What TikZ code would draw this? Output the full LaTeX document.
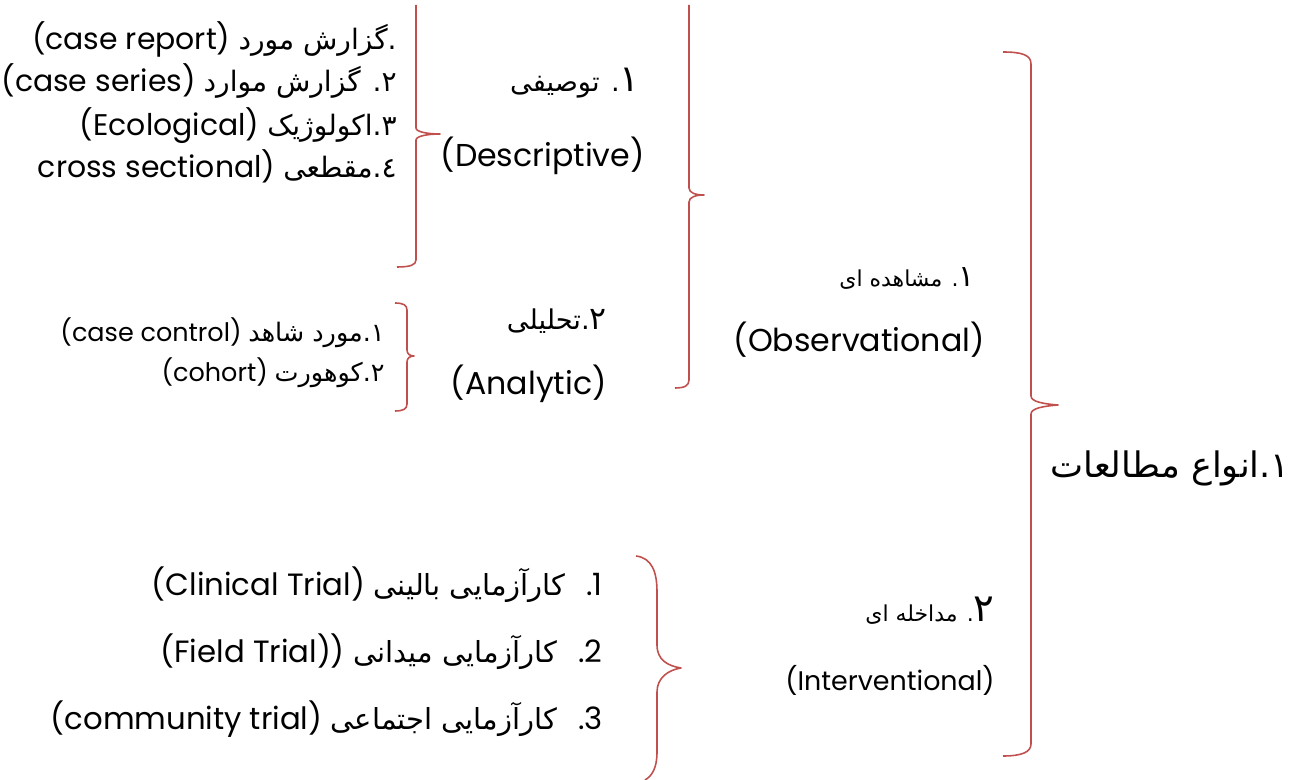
\documentclass[tikz,border=0pt]{standalone}
\usepackage{fontspec}
\setmainfont{Poppins}
\newfontfamily\lat{Poppins}
\newfontfamily\fa[Script=Arabic]{DejaVu Sans}
\TeXXeTstate=1
\definecolor{bracered}{RGB}{192,80,77}
\newcommand{\fsz}[1]{\fontsize{#1}{#1}\selectfont}
\tikzset{
  brc/.style={bracered,line width=0.9pt,line join=round},
  lbl/.style={anchor=base east,inner sep=0pt,text=black},
  head/.style={lbl,font=\fsz{18}},
  item/.style={lbl,font=\fsz{17}},
  subitem/.style={lbl,font=\fsz{14.5}},
  trial/.style={lbl,font=\fsz{17.5}},
}
\begin{document}
\begin{tikzpicture}[x=0.02cm,y=-0.02cm]
\useasboundingbox (0,0) rectangle (1296,780);
%\draw[step=100,gray,very thin] (0,0) grid (1296,780);
% root
\node[lbl,font=\fsz{20}] (root) at (1290,478) {\fa\beginR ۱.انواع مطالعات\endR};
\draw[brc] (1003,52) .. controls (1022,52) and (1031,55) .. (1031,64) -- (1031,396)
  .. controls (1031,402) and (1045,404) .. (1058,405)
  .. controls (1045,406) and (1031,408) .. (1031,414) -- (1031,744)
  .. controls (1031,752) and (1022,756) .. (1003,756);
% observational
\node[lbl,font=\fsz{12.5}] (obs1) at (975,287) {\fa\beginR{\fsz{17}۱}. مشاهده ای\endR};
\node[head] (obs2) at (985,352) {\lat (Observational)};
\draw[brc] (689,5) -- (689,188) .. controls (689,193) and (696,195) .. (704,195)
  .. controls (696,195) and (689,197) .. (689,202) -- (689,380)
  .. controls (689,386) and (684,388) .. (675,388);
% descriptive
\node[lbl,font=\fsz{15.5}] (desc1) at (640,92) {\fa\beginR{\fsz{21}۱}. توصیفی\endR};
\node[head] (desc2) at (645,167) {\lat (Descriptive)};
\draw[brc] (416,5) -- (416,128) .. controls (416,132) and (428,134) .. (440,134)
  .. controls (428,134) and (416,136) .. (416,140) -- (416,260)
  .. controls (416,265) and (410,267) .. (397,267);
\node[item] (dA) at (397,50) {\lat (case report)\ {\fa\fsz{16}\beginR .گزارش مورد\endR}};
\node[item] (dB) at (397,92) {\lat (case series)\ {\fa\fsz{16}\beginR ۲. گزارش موارد\endR}};
\node[item] (dC) at (397,136) {\lat (Ecological)\ {\fa\fsz{16}\beginR ۳.اکولوژیک\endR}};
\node[item] (dD) at (397,178) {\lat cross sectional)\ {\fa\fsz{16}\beginR ٤.مقطعی\endR}};
% analytic
\node[lbl,font=\fsz{15.5}] (an1) at (607,330) {\fa\beginR{\fsz{18}۲}.تحلیلی\endR};
\node[head] (an2) at (607,395) {\lat (Analytic)};
\draw[brc] (395,303) .. controls (403,303) and (407,305) .. (407,310) -- (407,350)
  .. controls (407,354) and (410,356) .. (414,356)
  .. controls (410,356) and (407,358) .. (407,362) -- (407,404)
  .. controls (407,409) and (403,411) .. (395,411);
\node[subitem] (anA) at (385,342) {\lat (case control)\ {\fa\beginR ۱.مورد شاهد\endR}};
\node[subitem] (anB) at (385,382) {\lat (cohort)\ {\fa\beginR ۲.کوهورت\endR}};
% interventional
\node[lbl,font=\fsz{12.5}] (int1) at (995,622) {\fa\beginR{\fsz{22}۲}. مداخله ای\endR};
\node[lbl,font=\fsz{15.3}] (int2) at (995,690) {\lat (Interventional)};
\draw[brc] (636,556) .. controls (652,558) and (657,572) .. (657,592) -- (657,645)
  .. controls (657,660) and (668,666) .. (681,668)
  .. controls (668,670) and (657,678) .. (657,692) -- (657,752)
  .. controls (657,768) and (652,776) .. (645,780);
\node[trial] (trA) at (603,596) {\lat (Clinical Trial)\ {\fa\fsz{16.5}\beginR کارآزمایی بالینی\endR}\hspace{12pt}.1};
\node[trial] (trB) at (603,663) {\lat (Field Trial))\ {\fa\fsz{16.5}\beginR کارآزمایی میدانی\endR}\hspace{12pt}.2};
\node[trial] (trC) at (603,729) {\lat (community trial)\ {\fa\fsz{16.5}\beginR کارآزمایی اجتماعی\endR}\hspace{12pt}.3};
\end{tikzpicture}
\end{document}
